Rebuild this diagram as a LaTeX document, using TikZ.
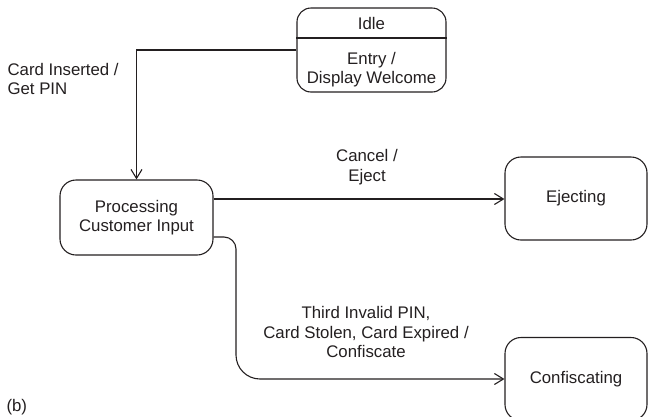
\documentclass[tikz,border=0pt]{standalone}
\usepackage{fontspec}
\setmainfont{Liberation Sans}
\usetikzlibrary{arrows.meta}
\definecolor{ink}{HTML}{231F20}
\begin{document}
\begin{tikzpicture}[x=1pt,y=-1pt,
  every path/.style={draw=ink, line width=1.1pt},
  state/.style={draw=ink, line width=1.1pt, rounded corners=16pt, inner sep=0pt},
  lbl/.style={inner sep=0pt, align=center, text=ink, font=\fontsize{16.8}{19.5}\selectfont},
  tr/.style={draw=ink, line width=1.1pt, -{Straight Barb[length=9pt,width=11pt,line width=1.1pt]}}]
\useasboundingbox[draw=none] (0,0) rectangle (649,416);
% states
\node[state, rounded corners=14pt, minimum width=149pt, minimum height=84pt] (idle) at (371.5,50) {};
\coordinate (div) at (0,38);
\draw (idle.west |- div) -- (idle.east |- div);
\node[lbl] (idlet) at (371.5,23) {Idle};
\node[lbl] (entry) at (371.5,69.5) {Entry /\\Display Welcome};
\node[state, minimum width=153pt, minimum height=75pt] (proc) at (136.5,217.5) {};
\node[lbl] (proct) at (proc.center) {Processing\\Customer Input};
\node[state, minimum width=142pt, minimum height=83pt] (ejec) at (576,198.5) {};
\node[lbl] (eject) at (ejec.center) {Ejecting};
\node[state, minimum width=142pt, minimum height=83pt] (conf) at (576,379) {};
\node[lbl] (conft) at (conf.center) {Confiscating};
% transitions
\draw[tr] (idle.west) -| (proc.north);
\coordinate (ej) at (0,199);
\draw[tr] (proc.east |- ej) -- (ejec.west |- ej);
\coordinate (c1) at (236,237);
\coordinate (c2) at (236,379);
\draw[tr] (proc.east |- c1) [rounded corners=12pt] -- (c1) [rounded corners=24pt] -- (c2) [sharp corners] -- (conf.west);
% labels
\node[lbl, align=left, anchor=west] (card) at (7,79) {Card Inserted /\\Get PIN};
\node[lbl] (cancel) at (367,167) {Cancel /\\Eject};
\node[lbl] (third) at (366,332) {Third Invalid PIN,\\Card Stolen, Card Expired /\\Confiscate};
\node[lbl, anchor=base west] (b) at (6,411) {(b)};
\end{tikzpicture}
\end{document}
